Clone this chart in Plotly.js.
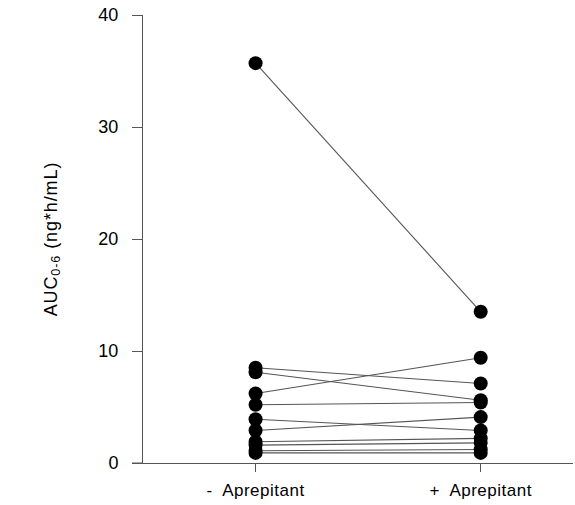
<!DOCTYPE html>
<html>
<head>
<meta charset="utf-8">
<script src="https://cdn.plot.ly/plotly-3.0.1.min.js"></script>
<style>html,body{margin:0;padding:0;background:#fff;}#chart{width:575px;height:505px;}
.ytitle{letter-spacing:0.9px;}
.xtick text{letter-spacing:0.5px;}
</style>
</head>
<body>
<div id="chart"></div>
<script>
const categories = ["-\u00a0 Aprepitant", "+\u00a0 Aprepitant"];
const withoutAprepitant = [35.7, 8.5, 8.1, 6.2, 5.2, 3.9, 2.9, 1.9, 1.6, 1.1, 0.9];
const withAprepitant    = [13.5, 7.1, 5.6, 9.4, 5.4, 2.9, 4.1, 2.2, 1.8, 1.2, 0.9];
const yTicks = [0, 10, 20, 30, 40];

const traces = withoutAprepitant.map((v, i) => ({
  type: "scatter",
  mode: "lines+markers",
  x: [0, 1],
  y: [v, withAprepitant[i]],
  line: {color: "#555555", width: 1.1},
  marker: {color: "#000000", size: 14},
  showlegend: false,
  hoverinfo: "y"
}));

const layout = {
  width: 575, height: 505,
  margin: {l: 143, r: 2, t: 15, b: 42},
  paper_bgcolor: "#ffffff", plot_bgcolor: "#ffffff",
  font: {family: "Liberation Sans, Arial, sans-serif", color: "#000000"},
  xaxis: {
    range: [-0.5, 1.41],
    tickvals: [0, 1], ticktext: categories,
    showline: true, linecolor: "#555555", linewidth: 1,
    ticks: "outside", ticklen: 8, tickcolor: "#555555",
    ticklabelstandoff: 4,
    showgrid: false, zeroline: false,
    tickfont: {size: 17}
  },
  yaxis: {
    range: [0, 40],
    tickvals: yTicks,
    showline: true, linecolor: "#555555", linewidth: 1,
    ticks: "outside", ticklen: 10, tickcolor: "#555555",
    ticklabelstandoff: 10,
    showgrid: false, zeroline: false,
    tickfont: {size: 18},
    title: {text: "AUC<sub>0-6</sub> (ng*h/mL)", font: {size: 18}, standoff: 36}
  },
  shapes: [{
    type: "line", xref: "paper", yref: "y",
    x0: -11/430, x1: 0, y0: 0, y1: 0,
    line: {color: "#555555", width: 1}
  }]
};

Plotly.newPlot("chart", traces, layout, {displayModeBar: false, staticPlot: true});
</script>
</body>
</html>
